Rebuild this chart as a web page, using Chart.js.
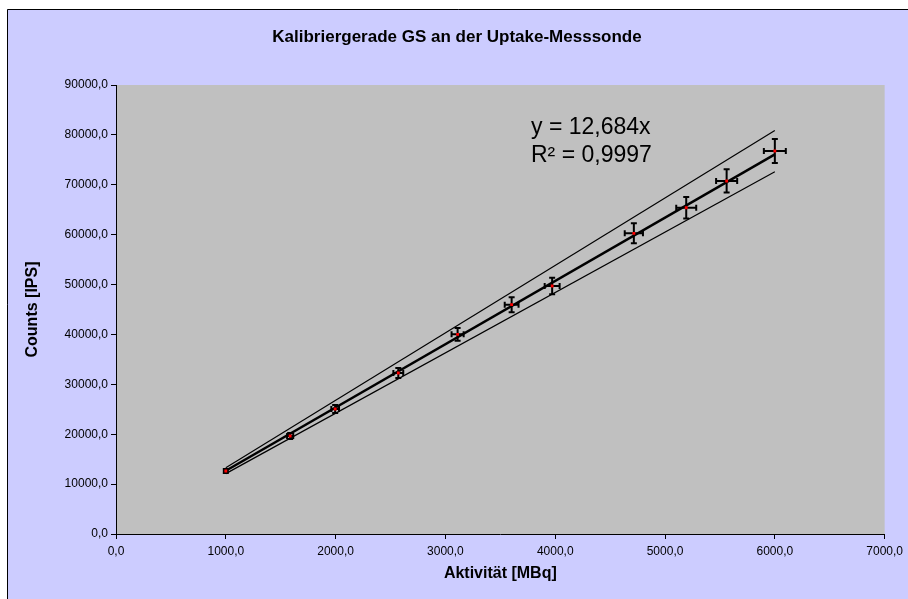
<!DOCTYPE html>
<html>
<head>
<meta charset="UTF-8">
<script src="https://cdn.jsdelivr.net/npm/chart.js@4.4.1/dist/chart.umd.min.js"></script>
<title>Kalibriergerade</title>
<style>
  body { margin: 0; background: #fff; }
  canvas { display: block; }
</style>
</head>
<body>
<canvas id="chart" width="908" height="599"></canvas>
<script>
var activity = [1000, 1586, 1996, 2571, 3111, 3603, 3972, 4716, 5193, 5561, 6000];
var counts   = [12630, 19640, 25060, 32270, 40030, 45960, 49710, 60270, 65400, 70760, 76770];
var activityErr = [18, 28, 35, 45, 55, 63, 68, 83, 91, 96, 100];
var countsErr   = [400, 600, 800, 1000, 1270, 1500, 1670, 2000, 2140, 2330, 2400];

// trendlinie y = 12,684x und grenzlinien
var trendX = [1000, 6000];
var trendY = [12684, 76104];
var upperY = [13300, 80900];
var lowerY = [12100, 72600];

var titleText = 'Kalibriergerade GS an der Uptake-Messsonde';
var xTitle = 'Aktivität [MBq]';
var yTitle = 'Counts [IPS]';
var eqLines = ['y = 12,684x', 'R² = 0,9997'];

var FONT = "'Liberation Sans', Arial, sans-serif";

function pts(xs, ys) {
  var out = [];
  for (var i = 0; i < xs.length; i++) out.push({ x: xs[i], y: ys[i] });
  return out;
}

function fmt(v) { return v.toFixed(1).replace('.', ','); }

var bgPlugin = {
  id: 'bg',
  beforeDraw: function (chart) {
    var c = chart.ctx, a = chart.chartArea;
    c.save();
    c.fillStyle = '#ffffff';
    c.fillRect(0, 0, chart.width, chart.height);
    c.fillStyle = '#CCCCFF';
    c.fillRect(7, 9, chart.width, chart.height);
    c.strokeStyle = '#000';
    c.lineWidth = 1;
    c.beginPath();
    c.moveTo(7.5, chart.height + 2);
    c.lineTo(7.5, 9.5);
    c.lineTo(chart.width + 2, 9.5);
    c.stroke();
    c.fillStyle = '#C0C0C0';
    c.fillRect(a.left, a.top, a.right - a.left, a.bottom - a.top);
    c.restore();
  }
};

var errPlugin = {
  id: 'errbars',
  beforeDatasetsDraw: function (chart) {
    var c = chart.ctx, xs = chart.scales.x, ys = chart.scales.y;
    c.save();
    c.strokeStyle = '#000';
    c.lineWidth = 2;
    for (var i = 0; i < activity.length; i++) {
      var px = xs.getPixelForValue(activity[i]);
      var py = ys.getPixelForValue(counts[i]);
      var x0 = xs.getPixelForValue(activity[i] - activityErr[i]);
      var x1 = xs.getPixelForValue(activity[i] + activityErr[i]);
      var y0 = ys.getPixelForValue(counts[i] - countsErr[i]);
      var y1 = ys.getPixelForValue(counts[i] + countsErr[i]);
      c.beginPath();
      c.moveTo(px, y0); c.lineTo(px, y1);
      c.moveTo(px - 3, y0); c.lineTo(px + 3, y0);
      c.moveTo(px - 3, y1); c.lineTo(px + 3, y1);
      c.moveTo(x0, py); c.lineTo(x1, py);
      c.moveTo(x0, py - 3); c.lineTo(x0, py + 3);
      c.moveTo(x1, py - 3); c.lineTo(x1, py + 3);
      c.stroke();
    }
    c.restore();
  }
};

var textPlugin = {
  id: 'texts',
  afterDraw: function (chart) {
    var c = chart.ctx, a = chart.chartArea;
    c.save();
    c.fillStyle = '#000';
    c.textAlign = 'center';
    c.textBaseline = 'middle';
    c.font = 'bold 17px ' + FONT;
    c.fillText(titleText, 457, 37);
    c.font = 'bold 16px ' + FONT;
    c.fillText(xTitle, (a.left + a.right) / 2, 574);
    c.translate(33, (a.top + a.bottom) / 2);
    c.rotate(-Math.PI / 2);
    c.fillText(yTitle, 0, 0);
    c.restore();

    c.save();
    c.fillStyle = '#000';
    c.textAlign = 'left';
    c.textBaseline = 'alphabetic';
    c.font = '23px ' + FONT;
    c.fillText(eqLines[0], 531, 134);
    c.fillText(eqLines[1], 531, 162);
    c.restore();
  }
};

var ctx = document.getElementById('chart').getContext('2d');
new Chart(ctx, {
  type: 'scatter',
  data: {
    datasets: [
      {
        label: 'Messwerte',
        data: pts(activity, counts),
        pointRadius: 2,
        pointBorderWidth: 0,
        pointBackgroundColor: '#FF0000',
        pointStyle: 'rect',
        showLine: false,
        order: 0
      },
      {
        label: 'Trend',
        data: pts(trendX, trendY),
        showLine: true,
        borderColor: '#000',
        borderWidth: 2.5,
        pointRadius: 0,
        order: 1
      },
      {
        label: 'oben',
        data: pts(trendX, upperY),
        showLine: true,
        borderColor: '#000',
        borderWidth: 1.2,
        pointRadius: 0,
        order: 2
      },
      {
        label: 'unten',
        data: pts(trendX, lowerY),
        showLine: true,
        borderColor: '#000',
        borderWidth: 1.2,
        pointRadius: 0,
        order: 2
      }
    ]
  },
  options: {
    responsive: false,
    animation: false,
    devicePixelRatio: 1,
    layout: { padding: { left: 0, right: 23, top: 85, bottom: 0 } },
    plugins: {
      legend: { display: false },
      tooltip: { enabled: false },
      title: { display: false }
    },
    scales: {
      x: {
        type: 'linear',
        min: 0,
        max: 7000,
        afterFit: function (s) { s.height = 65; },
        ticks: {
          stepSize: 1000,
          color: '#000',
          padding: 5,
          maxRotation: 0,
          font: { family: FONT, size: 12 },
          callback: function (v) { return fmt(v); }
        },
        grid: { drawOnChartArea: false, drawTicks: true, tickLength: 5, color: '#000' },
        border: { color: '#000', width: 1 }
      },
      y: {
        type: 'linear',
        min: 0,
        max: 90000,
        afterFit: function (s) { s.width = 116; },
        ticks: {
          stepSize: 10000,
          color: '#000',
          padding: 3,
          font: { family: FONT, size: 12 },
          callback: function (v) { return fmt(v); }
        },
        grid: { drawOnChartArea: false, drawTicks: true, tickLength: 5, color: '#000' },
        border: { color: '#000', width: 1 }
      }
    }
  },
  plugins: [bgPlugin, errPlugin, textPlugin]
});
</script>
</body>
</html>
